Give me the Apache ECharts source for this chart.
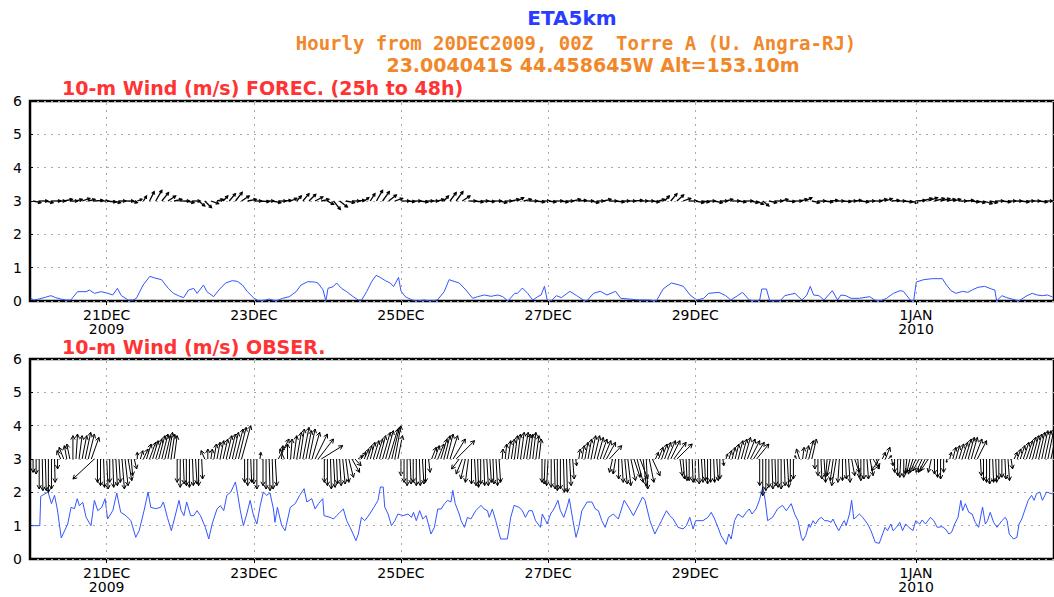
<!DOCTYPE html>
<html><head><meta charset="utf-8">
<script src="https://cdn.jsdelivr.net/npm/echarts@6/dist/echarts.min.js"></script>
<style>html,body{margin:0;padding:0;background:#fff}#c{width:1054px;height:597px}</style>
</head><body><div id="c"></div>
<script>
// hours from 20DEC2009 00Z
const dateTicks = [24, 72, 120, 168, 216, 288];
const dateLabels = ['21DEC\n2009', '23DEC', '25DEC', '27DEC', '29DEC', '1JAN\n2010'];
const yTicks = [0, 1, 2, 3, 4, 5, 6];

const titleMain = 'ETA5km';
const titleLine2 = 'Hourly from 20DEC2009, 00Z  Torre A (U. Angra-RJ)';
const titleLine3 = '23.004041S 44.458645W Alt=153.10m';
const panelTitleForec = '10-m Wind (m/s) FOREC. (25h to 48h)';
const panelTitleObs = '10-m Wind (m/s) OBSER.';

// forecast wind speed [hour, m/s]
const forecSpeed = [[-0.8,0.08],[0.3,0.03],[1.9,0.06],[3.6,0.1],[5.8,0.16],[7.4,0.1],[9.0,0.06],[10.7,0.03],[12.3,0.03],[14.5,0.28],[17.3,0.28],[18.4,0.33],[20.0,0.23],[22.2,0.28],[24.4,0.23],[26.0,0.18],[27.5,0.38],[28.8,0.16],[31.0,0.03],[32.6,0.03],[33.7,0.08],[35.9,0.48],[38.1,0.74],[39.7,0.69],[41.9,0.64],[44.1,0.38],[45.8,0.23],[47.4,0.16],[49.1,0.1],[50.7,0.33],[52.4,0.38],[53.5,0.23],[55.6,0.48],[56.7,0.28],[58.9,0.13],[60.6,0.33],[62.8,0.54],[65.0,0.61],[66.6,0.59],[68.3,0.48],[69.9,0.28],[72.1,0.08],[73.7,0.0],[75.9,0.03],[77.0,0.06],[79.2,0.0],[81.4,0.08],[83.6,0.13],[85.8,0.28],[87.4,0.48],[89.6,0.58],[91.8,0.57],[92.9,0.54],[94.6,0.33],[95.5,0.0],[96.2,0.38],[97.9,0.43],[99.0,0.54],[100.6,0.38],[102.3,0.28],[104.4,0.13],[106.1,0.03],[107.2,0.03],[108.8,0.28],[110.5,0.59],[111.9,0.77],[113.2,0.71],[114.9,0.61],[116.5,0.54],[117.6,0.43],[119.2,0.71],[120.0,0.30],[121.4,0.13],[123.6,0.03],[125.3,0.0],[127.5,0.03],[129.7,0.0],[131.9,0.03],[134.1,0.28],[135.7,0.64],[137.3,0.59],[139.0,0.54],[141.2,0.33],[143.4,0.08],[145.0,0.13],[147.2,0.18],[149.4,0.14],[151.6,0.18],[153.2,0.13],[154.9,0.0],[157.1,0.23],
[158.0,0.23],[159.6,0.39],[161.3,0.23],[163.0,0.03],[164.6,0.13],[165.7,0.18],[166.8,0.44],[167.7,0.03],[169.0,0.0],[170.7,0.16],[172.3,0.1],[175.1,0.29],[177.3,0.16],[179.5,0.03],[180.6,0.0],[182.8,0.23],[185.0,0.29],[187.2,0.18],[190.0,0.29],[191.7,0.08],[194.4,0.06],[197.7,0.03],[201.0,0.03],[203.3,0.0],[205.5,0.36],[208.2,0.54],[210.4,0.49],[212.1,0.44],[214.3,0.18],[216.5,0.03],[218.7,0.08],[220.4,0.23],[223.7,0.26],[225.9,0.16],[227.6,0.03],[229.8,0.16],[231.4,0.26],[233.6,0.03],[235.8,0.0],[237.0,0.03],[237.7,0.36],[239.2,0.36],[240.3,0.0],[243.6,0.0],[245.2,0.16],[248.5,0.23],[250.8,0.03],[252.4,0.18],[253.5,0.44],[254.6,0.18],[256.3,0.16],[258.0,0.03],[260.7,0.31],[262.4,0.03],[263.5,0.18],[265.1,0.16],[266.8,0.08],[269.5,0.08],[272.9,0.13],[274.5,0.03],[276.2,0.0],[278.4,0.08],[280.6,0.23],[282.8,0.31],[283.9,0.29],[286.1,0.03],[287.2,0.0],[288.1,0.57],[290.5,0.64],[293.3,0.67],[296.6,0.67],[297.7,0.51],[299.4,0.31],[301.0,0.23],[303.2,0.29],[304.9,0.26],[306.5,0.34],[308.2,0.41],[310.4,0.44],[312.6,0.36],[313.7,0.33],[314.3,0.0],[316.0,0.16],[317.6,0.1],[319.3,0.06],[321.5,0.0],[324.2,0.16],[325.9,0.23],[327.5,0.18],[329.2,0.16],[330.9,0.18],[332.5,0.12]];

// observed wind speed [hour, m/s]
const obsSpeed = [[-0.5,1.0],[2.2,1.0],[2.5,1.88],[4.9,2.01],[6.0,1.66],[7.0,1.91],[7.9,1.5],[9.2,0.63],[11.3,1.05],[12.4,1.55],[13.5,1.51],[14.4,1.81],[15.1,1.6],[16.2,1.7],[17.3,1.25],[18.9,1.0],[20.0,1.76],[21.1,1.45],[22.4,1.55],[23.5,1.81],[24.3,1.2],[26.0,1.45],[27.3,1.98],[28.6,1.4],[30.3,1.3],[31.9,1.15],[33.5,0.65],[34.6,0.85],[36.2,1.45],[37.5,2.01],[38.4,1.55],[40.0,1.51],[41.6,1.55],[42.5,1.71],[43.8,1.25],[45.1,0.85],[46.5,1.35],[47.6,1.76],[48.3,1.45],[49.2,1.3],[50.1,1.71],[51.4,1.3],[52.4,1.3],[53.5,1.45],[54.6,1.3],[56.2,0.95],[57.3,0.6],[58.4,1.05],[60.0,1.5],[61.1,1.6],[62.2,1.45],[63.2,1.91],[64.5,2.01],[66.0,2.31],[66.7,1.96],[67.6,1.45],[68.6,1.0],[69.7,1.35],[70.8,1.76],[71.9,1.3],[73.0,1.05],[74.1,1.61],[75.1,2.01],[76.2,1.91],[77.3,1.98],[78.4,1.5],[78.9,1.1],[79.7,1.55],[81.1,1.0],[82.2,0.85],
[83.9,1.55],[85.5,1.66],[86.9,1.9],[88.4,2.11],[89.3,1.71],[90.9,1.81],[92.0,1.5],[93.1,1.66],[94.5,1.81],[94.9,1.3],[96.9,1.25],[98.0,1.2],[99.0,1.3],[101.2,1.5],[102.3,1.15],[103.4,0.95],[104.4,0.75],[105.3,0.55],[106.1,0.75],[107.1,1.25],[108.2,1.15],[109.8,1.35],[111.5,1.6],[112.5,1.76],[113.3,2.16],[114.2,2.16],[114.7,1.56],[115.8,1.35],[116.9,1.0],[118.0,1.15],[119.0,1.35],[120.7,1.3],[122.3,1.35],[123.4,1.25],[124.1,1.4],[125.0,1.15],[126.1,1.45],[127.1,1.2],[128.2,1.3],[129.8,0.75],[130.9,0.95],[132.0,1.5],[133.1,1.5],[134.2,1.66],[135.2,1.76],[136.3,1.71],[136.9,2.06],[137.7,1.66],[139.0,1.35],[139.6,1.15],[140.7,0.95],[141.7,1.25],[142.8,1.2],[144.4,1.45],[146.1,1.61],[147.1,1.5],[148.2,1.45],[148.8,1.25],[149.8,1.5],[150.9,1.15],[152.5,0.6],[154.7,0.6],[155.8,1.25],[156.9,1.61],[158.5,1.55],[159.6,1.45],[160.6,1.25],[161.7,1.45],[162.8,1.45],[163.9,1.15],[165.5,0.95],
[166.1,1.35],[167.2,1.15],[167.7,1.05],[168.8,1.35],[169.9,1.5],[171.2,1.76],[172.0,1.45],[173.1,1.25],[174.2,1.56],[174.9,1.81],[176.1,1.15],[177.1,0.65],[178.0,0.95],[179.0,1.45],[180.7,1.71],[182.3,1.71],[183.4,1.5],[184.4,1.45],[185.5,1.15],[186.6,0.95],[187.7,1.25],[189.3,1.35],[190.9,1.2],[192.8,1.76],[194.2,1.56],[195.8,1.3],[196.9,1.5],[198.8,1.86],[199.6,1.76],[201.2,1.15],[202.8,0.75],[203.9,0.95],[205.0,1.15],[206.6,1.45],[207.7,1.3],[208.8,1.2],[210.4,0.95],[212.0,0.9],[213.1,1.0],[214.2,1.25],[215.3,0.9],[216.1,1.15],[218.5,1.15],[220.1,1.25],[221.2,1.4],[222.3,1.2],[223.4,0.95],[224.4,0.7],[226.1,0.44],[226.9,0.75],[227.7,0.6],[228.8,1.15],[229.9,1.35],[231.5,1.25],[232.6,1.4],[233.6,1.5],[234.5,1.35],[235.8,1.5],[236.9,1.76],[238.0,2.16],[238.8,1.76],[239.6,1.15],[241.2,1.25],[242.8,1.5],[244.4,1.61],[245.7,1.45],[247.3,1.66],
[248.4,1.35],[249.5,1.15],[250.6,0.65],[251.1,0.55],[252.0,0.7],[253.1,1.05],[253.5,0.95],[254.4,1.15],[255.2,1.05],[256.3,1.2],[257.1,1.25],[258.2,1.15],[259.2,1.15],[260.3,1.1],[260.9,1.2],[261.9,1.0],[262.8,0.85],[263.9,1.05],[264.6,1.15],[265.2,1.0],[266.3,1.35],[267.0,1.76],[267.7,1.2],[268.4,1.25],[269.5,1.35],[270.6,1.25],[272.2,1.05],[273.3,0.85],[274.7,0.5],[276.0,0.47],[277.1,0.75],[277.9,0.95],[278.7,0.85],[279.8,1.05],[280.5,0.85],[281.6,0.95],[282.7,1.1],[283.6,0.85],[284.6,1.05],[285.7,0.95],[287.0,0.85],[287.9,1.15],[289.2,1.05],[290.0,1.17],[291.1,1.05],[292.7,1.25],[293.8,1.15],[294.9,0.95],[296.5,0.97],[297.6,0.9],[298.7,0.75],[299.6,0.8],[300.6,1.05],[301.7,1.25],[302.6,1.76],[303.2,1.45],[304.1,1.66],[305.2,1.4],[306.3,1.35],[307.3,1.1],[308.4,0.95],[309.7,1.56],[310.6,1.05],[311.3,1.15],[312.2,1.4],[313.3,1.1],[314.4,0.95],[316.0,1.15],[317.1,1.25],[317.7,1.15],[318.4,0.75],[319.8,0.6],[320.9,0.65],[321.6,1.05],[322.5,1.2],[323.6,1.5],[324.6,1.76],[325.7,1.91],[326.5,1.76],[327.3,1.96],[328.4,2.01],[329.2,1.76],[330.6,2.01],[332.5,1.95]];

// forecast wind vectors drawn from y=3: [hour, tip y, tip offset in hours]
const forecVec = [[0,2.95,2.5],[2,3.0,2.8],[4,2.95,2.5],[6,3.0,3],[8,3.0,2.5],[10,3.05,2.8],[12,3.0,2.5],[14,3.05,2],[16,3.08,2.5],[18,3.05,2.2],[20,3.02,2.8],[22,3.0,2.5],[24,2.97,3],[26,2.95,2.5],[28,3.0,2.2],[30,3.0,2.8],[32,2.95,2],[34,3.05,1.5],[36,3.15,1],[38,3.28,1.5],[40,3.32,2],[42,3.25,2.2],[44,3.15,2.5],[46,3.05,2.5],[48,3.0,3],[50,2.95,2.5],[52,3.0,2.5],[54,2.85,2],[56,2.8,2.2],[58,2.92,2.5],[60,3.05,2],[62,3.15,1.5],[64,3.22,2],[66,3.26,2.2],[68,3.15,2.5],[70,3.05,2.8],[72,3.0,2.5],[74,2.98,3],[76,3.0,2.5],[78,2.95,2.8],[80,3.0,2.5],[82,3.02,2.2],[84,3.08,2],[86,3.15,1.5],[88,3.22,2],[90,3.2,2.2],[92,3.12,2.5],[94,3.05,2.5],[96,2.9,2],[98,2.75,2.2],[100,2.82,2.5],[102,2.95,2.8],[104,3.0,2.5],[106,3.02,2.2],[108,3.1,1.5],[110,3.22,1.5],[112,3.32,2],[114,3.28,2.2],[116,3.18,2.5],[118,3.08,2.5],[120,3.0,2.8],[122,2.98,2.5],[124,3.0,2.5],[126,2.97,2.8],[128,3.0,2.5],[130,3.0,2.2],[132,3.05,2],[134,3.15,1.5],[136,3.25,2],[138,3.28,2.2],[140,3.15,2.5],[142,3.0,2.5],[144,2.97,2.8],[146,3.0,2.5],[148,2.98,2.5],[150,3.0,2.8],[152,2.95,2.5],[154,3.0,2.2],[156,3.05,2.5],[158,3.1,2],[160,3.05,2.5],[162,3.0,2.5],[164,2.97,2.8],[166,3.0,2.5],[168,2.97,2.5],[170,3.0,2.8],[172,2.97,2.5],[174,3.0,2.2],[176,3.05,2.5],[178,3.02,2.5],[180,3.0,2.8],[182,2.95,2.5],[184,3.0,2.2],[186,3.05,2.5],[188,3.0,2.5],[190,2.97,2.8],[192,3.0,2.5],[194,3.0,2.5],[196,3.02,2.8],[198,3.0,2.5],[200,3.0,2.5],[202,2.97,2.2],[204,3.05,2],[206,3.15,1.5],[208,3.22,2],[210,3.18,2.2],[212,3.08,2.5],[214,3.0,2.5],[216,2.95,2.8],[218,2.97,2.5],[220,3.0,2.5],[222,2.95,2.8],[224,3.0,2.5],[226,3.05,2.2],[228,3.0,2.5],[230,2.97,2.5],[232,3.0,2.8],[234,2.95,2.5],[236,2.9,2.2],[238,2.85,2],[240,2.95,2.5],[242,3.0,2.5],[244,3.05,2.2],[246,2.98,2.5],[248,3.0,2.8],[250,3.05,2.5],[252,3.1,2],[254,2.95,2.5],[256,3.0,2.5],[258,2.97,2.8],[260,3.02,2.5],[262,3.0,2.5],[264,2.98,2.8],[266,3.0,2.5],[268,3.02,2.2],[270,2.97,2.5],[272,3.0,2.5],[274,3.0,2.8],[276,3.05,2.5],[278,3.07,2.2],[280,3.02,2.5],[282,3.0,2.5],[284,2.97,2.8],[286,2.95,2.5],[288,3.02,3],[290,3.08,3.2],[292,3.1,3],[294,3.08,3.2],[296,3.07,3],[298,3.05,2.8],[300,3.05,2.5],[302,3.0,2.5],[304,3.02,2.8],[306,2.97,2.5],[308,2.95,2.5],[310,2.92,2.8],[312,2.95,2.5],[314,3.0,2.5],[316,2.97,2.8],[318,3.0,2.5],[320,3.0,2.5],[322,2.97,2.8],[324,3.0,2.5],[326,3.0,2.5],[328,2.97,2.8],[330,3.0,2.5]];

// observed wind vectors drawn from y=3: [hour, tip y, tip offset in hours]
const obsVec = [[0,2.6,0],[1,2.55,0],[2,2.1,0],[3,2.05,0.2],[4,2.05,0.3],[5,2.0,0],[6,2.1,0],[7,2.3,0.2],[8,2.7,0],[9,3.25,-1.2],[10,3.35,-1.5],[11,3.4,-0.8],[12,3.45,-1],[13,3.7,0],[14,3.75,0.5],[15,3.7,1],[16,3.7,1.5],[17,3.8,1.8],[18,3.75,2],[19,3.65,2.5],[20,2.4,-7],[21,2.3,0],[22,2.2,0],[23,2.15,0.3],[24,2.1,0.5],[25,2.3,0],[26,2.15,0.3],[27,2.2,0.5],[28,2.3,0.5],[29,2.1,0.8],[30,2.2,1],[31,2.35,1.2],[32,2.5,0.5],[33,2.7,0.8],[34,3.2,0],[35,3.25,0.8],[36,3.3,1.5],[37,3.45,1.5],[38,3.5,2],[39,3.55,1.8],[40,3.6,2],[41,3.7,2],[42,3.75,2],[43,3.7,1.8],[44,3.8,1.5],[45,3.75,1.2],[46,3.7,1],[47,2.3,0],[48,2.15,0],[49,2.25,0.3],[50,2.2,0],[51,2.15,0],[52,2.2,0.3],[53,2.25,0.5],[54,2.2,0],[55,2.4,0.3],[56,3.25,-1.2],[57,3.3,0],[58,3.3,0.5],[59,3.45,0.8],[60,3.5,1],[61,3.55,1.2],[62,3.6,1.5],[63,3.7,1.8],[64,3.75,2],[65,3.8,2],[66,3.9,2.5],[67,3.95,2.5],[68,4.0,3],[69,2.3,0],[70,2.2,0],[71,2.3,0.3],[72,2.25,0],[73,2.1,0],[74,3.2,0.3],[75,2.2,0],[76,2.1,0],[77,2.05,0.3],[78,2.1,0.3],[79,2.2,0.5],[80,3.6,3.5],[81,3.4,0.5],[82,3.3,-1.5],[83,3.45,0],[84,3.6,0.5],[85,3.7,1],[86,3.8,1.5],[87,3.9,1.5],[88,3.95,2],[89,3.85,1.8],[90,3.9,2],[91,3.8,2.5],[92,3.75,4],[93,3.6,5],[94,3.4,7],[95,2.3,0],[96,2.2,0],[97,2.1,0.3],[98,2.15,0.5],[99,2.25,0.3],[100,2.2,0.5],[101,2.25,0.8],[102,2.3,1],[103,2.45,1.5],[104,2.6,2.5],[105,2.8,2],[106,3.1,1.5],[107,3.2,1.5],[108,3.3,1.5],[109,3.4,1.5],[110,3.5,1.5],[111,3.55,1.8],[112,3.6,2],[113,3.7,2],[114,3.8,2.5],[115,3.85,2.5],[116,3.9,3],[117,3.95,2.5],[118,4.0,2],[119,3.7,1.5],[120,2.5,0],[121,2.3,0],[122,2.2,0],[123,2.25,0.3],[124,2.3,0],[125,2.2,0],[126,2.2,0.3],[127,2.25,0.5],[128,2.3,0],[129,2.6,0.5],[130,3.35,1.5],[131,3.4,1.5],[132,3.45,2],[133,3.6,2],[134,3.7,2],[135,3.75,2],[136,3.7,2.5],[137,3.6,4],[138,3.55,6],[139,2.7,-2.5],[140,2.55,-2],[141,2.4,-1.5],[142,2.3,-1],[143,2.25,0],[144,2.2,0.5],[145,2.15,0.3],[146,2.25,0],[147,2.2,0.3],[148,2.2,0.5],[149,2.3,0.5],[150,2.25,0.3],[151,2.2,0.5],[152,2.3,0.5],[153,3.3,0.3],[154,3.45,0.5],[155,3.55,0.8],[156,3.6,1],[157,3.7,1],[158,3.75,1],[159,3.8,1.2],[160,3.8,1.5],[161,3.75,1.2],[162,3.75,1],[163,3.8,1],[164,3.7,1],[165,3.6,0.8],[166,2.3,0],[167,2.25,-0.3],[168,2.2,-0.5],[169,2.15,0],[170,2.1,0.3],[171,2.05,0],[172,2.1,0],[173,2.0,0.3],[174,2.0,0.3],[175,2.2,0.5],[176,2.4,0.5],[177,2.8,0.3],[178,3.3,0.5],[179,3.4,0.8],[180,3.5,1],[181,3.6,1.2],[182,3.7,1.5],[183,3.7,1.8],[184,3.65,2],[185,3.6,2.2],[186,3.55,2.5],[187,3.5,3],[188,3.4,4],[189,2.6,-1],[190,2.55,-0.8],[191,2.4,0],[192,2.3,0.5],[193,2.25,0.8],[194,2.2,1],[195,2.35,1.5],[196,2.45,2],[197,2.3,2],[198,2.4,2.5],[199,2.2,1],[200,2.1,0.5],[201,2.3,1.5],[202,2.5,2.5],[203,3.2,1],[204,3.35,1.5],[205,3.45,1.8],[206,3.5,2],[207,3.55,2.5],[208,3.55,3],[209,3.5,4],[210,3.45,5],[211,2.5,0.8],[212,2.4,0.5],[213,2.35,0.3],[214,2.35,0],[215,2.3,0.3],[216,2.3,0],[217,2.25,0.3],[218,2.3,0.5],[219,2.35,0.3],[220,2.25,0],[221,2.3,0],[222,2.3,0.3],[223,2.35,0.5],[224,2.4,0],[225,2.8,0.3],[226,3.15,0.5],[227,3.25,0.8],[228,3.35,1],[229,3.45,1.2],[230,3.55,1.5],[231,3.6,1.8],[232,3.65,2],[233,3.6,2.5],[234,3.55,3],[235,3.5,3.5],[236,3.45,4],[237,2.2,0],[238,1.9,0],[239,2.05,0],[240,2.15,0],[241,2.1,0.3],[242,2.2,0.3],[243,2.15,0],[244,2.1,0],[245,2.2,0.3],[246,2.15,0.5],[247,2.3,0],[248,2.4,0],[249,3.1,-0.5],[250,3.3,-1],[251,3.35,0.5],[252,3.4,1],[253,3.55,1.5],[254,3.6,1.5],[255,2.7,0],[256,2.5,0],[257,2.4,0.3],[258,2.3,0.5],[259,2.45,-0.5],[260,2.5,-1],[261,2.35,-1],[262,2.2,-1.5],[263,2.3,-0.5],[264,2.35,0],[265,2.4,0.3],[266,2.3,0.5],[267,2.5,1],[268,2.6,1.5],[269,2.45,0.5],[270,2.35,0],[271,2.4,0],[272,2.4,0.5],[273,2.5,1],[274,2.7,2],[275,2.75,1],[276,2.65,-2.5],[277,3.2,1],[278,3.35,1.5],[279,3.1,1],[280,2.8,0.5],[281,2.6,0],[282,2.5,0],[283,2.45,-0.3],[284,2.45,0],[285,2.55,-0.5],[286,2.6,-1],[287,2.55,-1.5],[288,2.6,-2],[289,2.65,-2],[290,2.6,-2],[291,2.6,-2.2],[292,2.65,-2.5],[293,2.6,-1],[294,2.55,0],[295,2.45,0],[296,2.4,0],[297,2.6,0],[298,2.9,0],[299,3.2,0.5],[300,3.35,1],[301,3.4,1.2],[302,3.45,1.5],[303,3.5,1.8],[304,3.6,2],[305,3.65,2],[306,3.65,2],[307,3.6,2.5],[308,3.55,3],[309,2.5,0.3],[310,2.35,0],[311,2.3,0],[312,2.25,0],[313,2.3,0.3],[314,2.3,0.3],[315,2.4,0],[316,2.45,0],[317,2.4,0.3],[318,2.35,0.5],[319,2.7,0.5],[320,3.2,1],[321,3.3,1.2],[322,3.4,1.5],[323,3.5,1.8],[324,3.55,2],[325,3.65,2],[326,3.7,2],[327,3.75,2],[328,3.8,2],[329,3.85,2],[330,3.85,2],[331,3.9,2],[332,3.85,2]];

const FONT = 'DejaVu Sans';
const MONO = 'DejaVu Sans Mono';
const BASE = 3;

function makeArrow(headMax, lw) {
  return function (params, api) {
    const h = api.value(0), ty = api.value(1), dx = api.value(2);
    const p0 = api.coord([h, BASE]);
    const p1 = api.coord([h + dx, ty]);
    const vx = p1[0] - p0[0], vy = p1[1] - p0[1];
    const len = Math.sqrt(vx * vx + vy * vy);
    const children = [{
      type: 'line',
      shape: { x1: p0[0], y1: p0[1], x2: p1[0], y2: p1[1] },
      style: { stroke: '#000', lineWidth: lw }
    }];
    if (len > 0.5) {
      const ang = Math.atan2(vy, vx);
      const hs = Math.min(headMax, len * 0.5);
      const a1 = [p1[0] - hs * Math.cos(ang - 0.5), p1[1] - hs * Math.sin(ang - 0.5)];
      const a2 = [p1[0] - hs * Math.cos(ang + 0.5), p1[1] - hs * Math.sin(ang + 0.5)];
      children.push({
        type: 'polyline',
        shape: { points: [a1, [p1[0], p1[1]], a2] },
        style: { stroke: '#000', fill: null, lineWidth: lw }
      });
    }
    return { type: 'group', children: children };
  };
}

const chart = echarts.init(document.getElementById('c'), null, { renderer: 'svg', width: 1054, height: 597 });

const gridLeft = 30, gridWidth = 1030, xMin = -1, xMax = 333;
function xAxisFor(gi) {
  return {
    type: 'value', gridIndex: gi, min: xMin, max: xMax,
    axisLine: { show: false },
    axisTick: { show: true, customValues: dateTicks, length: 4, lineStyle: { color: '#000', width: 1 } },
    axisLabel: {
      show: true, customValues: dateTicks, margin: 7,
      formatter: function (v) { const i = dateTicks.indexOf(v); return i >= 0 ? dateLabels[i] : ''; },
      color: '#000', fontFamily: FONT, fontSize: 14, lineHeight: 14
    },
    splitLine: { show: false }
  };
}
function yAxisFor(gi) {
  return {
    type: 'value', gridIndex: gi, min: 0, max: 6, interval: 1,
    axisLine: { show: false },
    axisTick: { show: true, length: 3, lineStyle: { color: '#000' } },
    axisLabel: { color: '#000', fontFamily: FONT, fontSize: 14, margin: 8,
      formatter: function (v) { return yTicks.indexOf(v) >= 0 ? String(v) : ''; } },
    splitLine: { show: true, lineStyle: { color: '#aaa', type: [2, 5], width: 1 } }
  };
}
const vGrid = {
  silent: true, symbol: ['none', 'none'], label: { show: false },
  lineStyle: { color: '#aaa', type: [2, 5], width: 1 },
  data: dateTicks.map(function (v) { return { xAxis: v }; })
};

chart.setOption({
  animation: false,
  backgroundColor: '#fff',
  grid: [
    { left: gridLeft, top: 101, width: gridWidth, height: 200, show: true, borderColor: '#000', borderWidth: 2.5 },
    { left: gridLeft, top: 359, width: gridWidth, height: 200, show: true, borderColor: '#000', borderWidth: 2.5 }
  ],
  xAxis: [xAxisFor(0), xAxisFor(1)],
  yAxis: [yAxisFor(0), yAxisFor(1)],
  graphic: [
    { type: 'text', x: 572, y: 18, style: { text: titleMain, fill: '#2a3cff', font: 'bold 20px "' + FONT + '"', textAlign: 'center', textVerticalAlign: 'middle' } },
    { type: 'text', x: 576, y: 43, style: { text: titleLine2, fill: '#f0882a', font: 'bold 19px "' + MONO + '"', textAlign: 'center', textVerticalAlign: 'middle' } },
    { type: 'text', x: 593, y: 65, style: { text: titleLine3, fill: '#f0882a', font: 'bold 19px "' + FONT + '"', textAlign: 'center', textVerticalAlign: 'middle' } },
    { type: 'text', x: 62, y: 88, style: { text: panelTitleForec, fill: '#ff3333', font: 'bold 19px "' + FONT + '"', textAlign: 'left', textVerticalAlign: 'middle' } },
    { type: 'text', x: 62, y: 347, style: { text: panelTitleObs, fill: '#ff3333', font: 'bold 19px "' + FONT + '"', textAlign: 'left', textVerticalAlign: 'middle' } }
  ],
  series: [
    { type: 'line', name: 'forecSpeed', xAxisIndex: 0, yAxisIndex: 0, data: forecSpeed, showSymbol: false,
      lineStyle: { color: '#3355ff', width: 1 }, markLine: vGrid, z: 3 },
    { type: 'custom', name: 'forecVec', xAxisIndex: 0, yAxisIndex: 0, data: forecVec,
      encode: { x: 0, y: 1 }, renderItem: makeArrow(3, 1.3), z: 4 },
    { type: 'line', name: 'obsSpeed', xAxisIndex: 1, yAxisIndex: 1, data: obsSpeed, showSymbol: false,
      lineStyle: { color: '#3355ff', width: 1 }, markLine: vGrid, z: 3 },
    { type: 'custom', name: 'obsVec', xAxisIndex: 1, yAxisIndex: 1, data: obsVec,
      encode: { x: 0, y: 1 }, renderItem: makeArrow(4.5, 1), z: 4 }
  ]
});
</script>
</body></html>
